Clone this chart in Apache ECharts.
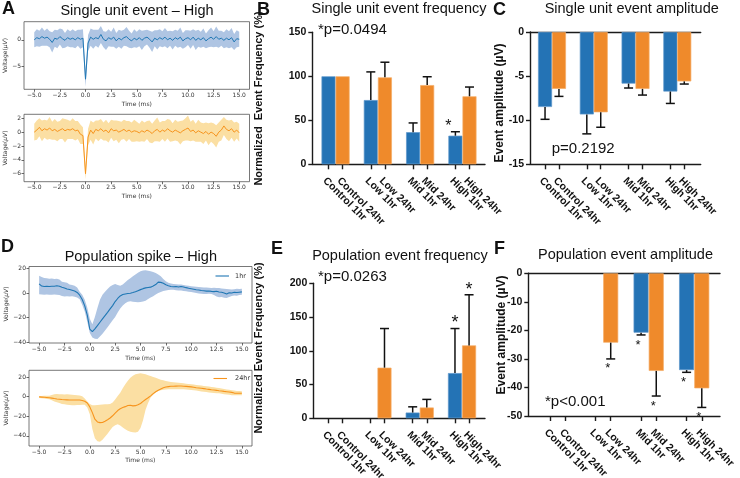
<!DOCTYPE html>
<html><head><meta charset="utf-8">
<script src="https://cdn.jsdelivr.net/npm/echarts@6/dist/echarts.min.js"></script>
<style>html,body{margin:0;padding:0;background:#fff}#main{width:740px;height:478px}</style>
</head><body><div id="main"></div>
<script>
// ---------- Trace data (A: single unit, D: population spike) ----------
const timeMs = [-5,-4.75,-4.5,-4.25,-4,-3.75,-3.5,-3.25,-3,-2.75,
 -2.5,-2.25,-2,-1.75,-1.5,-1.25,-1,-0.75,-0.5,-0.25,
 0,0.25,0.5,0.75,1,1.25,1.5,1.75,2,2.25,
 2.5,2.75,3,3.25,3.5,3.75,4,4.25,4.5,4.75,
 5,5.25,5.5,5.75,6,6.25,6.5,6.75,7,7.25,
 7.5,7.75,8,8.25,8.5,8.75,9,9.25,9.5,9.75,
 10,10.25,10.5,10.75,11,11.25,11.5,11.75,12,12.25,
 12.5,12.75,13,13.25,13.5,13.75,14,14.25,14.5,14.75,
 15];
const timeTicks = [-5,-2.5,0,2.5,5,7.5,10,12.5,15];

const unit1hrMean = [0.0,0.4,0.2,0.6,0.3,0.5,0.1,-0.5,0.3,0.1,
 0.6,0.2,-0.1,0.4,0.1,0.3,0.0,0.4,0.1,0.3,
 -7.4,-0.6,0.5,0.1,0.4,0.2,1.0,0.1,-0.2,0.4,
 0.1,0.5,-0.2,0.3,0.0,0.4,0.6,0.1,-0.2,0.3,
 0.0,0.4,-0.1,0.3,0.5,0.1,-0.4,0.3,0.0,0.4,
 0.1,0.5,0.0,0.3,-0.1,0.4,0.1,0.5,-0.2,0.2,
 0.4,0.0,0.5,-0.1,0.3,0.0,0.4,-0.2,0.2,0.5,
 0.1,0.6,0.1,0.3,-0.1,0.3,0.0,0.4,-0.4,0.2,
 0.1];
const unit1hrSd = [1.4,1.6,1.5,1.7,1.4,1.6,1.5,1.9,1.6,1.7,
 1.5,1.8,1.4,1.6,1.5,1.7,1.6,1.5,1.8,1.7,
 1.4,1.5,1.6,1.8,1.5,1.7,1.6,1.5,1.7,1.6,
 1.4,1.8,1.5,1.6,1.7,1.5,1.8,1.6,1.4,1.7,
 1.5,1.6,1.8,1.5,1.4,1.6,1.9,1.5,1.8,1.6,
 1.5,1.7,1.6,1.4,1.7,1.5,1.6,1.8,1.5,1.6,
 1.4,1.7,1.5,1.8,1.6,1.5,1.7,1.4,1.6,1.8,
 1.5,1.9,1.6,1.4,1.5,1.7,1.6,1.8,1.5,1.6,
 1.4];
const unit24hrMean = [0.0,0.3,0.7,0.2,0.5,0.3,0.6,0.2,0.4,0.1,
 0.3,0.5,0.2,0.4,0.3,0.5,0.2,0.3,-0.3,-0.5,
 -6.0,-0.7,0.3,-0.2,0.4,0.2,0.5,0.1,0.3,-0.1,
 0.5,0.2,0.3,0.0,0.2,0.4,0.1,0.3,0.0,0.2,
 0.1,-0.1,0.2,0.0,0.3,0.1,-0.2,0.2,0.4,0.0,
 0.3,0.1,0.5,0.2,0.0,0.3,0.1,-0.1,0.2,0.4,
 0.6,0.1,0.3,-0.1,0.2,0.0,-0.2,0.1,-0.3,0.0,
 -0.2,-0.6,0.0,0.3,0.9,0.4,0.2,0.5,0.0,0.3,
 -0.1];
const unit24hrSd = [1.2,1.4,1.3,1.5,1.3,1.4,1.6,1.3,1.5,1.4,
 1.3,1.5,1.7,1.4,1.3,1.5,1.4,1.3,1.4,1.2,
 0.8,1.2,1.4,1.6,1.3,1.5,1.4,1.3,1.5,1.4,
 1.3,1.5,1.4,1.6,1.3,1.4,1.5,1.3,1.4,1.6,
 1.4,1.3,1.5,1.4,1.3,1.6,1.4,1.5,1.7,1.4,
 1.3,1.5,1.4,1.6,1.3,1.5,1.4,1.7,1.5,1.6,
 1.8,1.4,1.5,1.3,1.6,1.4,1.5,1.3,1.6,1.4,
 1.5,1.6,1.4,1.5,1.3,1.4,1.5,1.3,1.4,1.2,
 1.3];

const pop1hrMean = [7.4,5.6,5.3,5.4,5.2,5.4,5.5,5.9,5.5,4.6,
 4.0,3.2,2.8,2.2,1.6,0.4,-1.8,-5.3,-10.5,-18.0,
 -29.5,-31.5,-29.2,-26.6,-23.8,-21.1,-18.4,-15.8,-13.0,-10.3,
 -7.0,-4.5,-2.4,-1.3,-0.8,-0.5,-0.2,0.3,0.9,1.8,
 2.7,3.5,4.1,4.4,4.7,5.6,6.8,8.8,8.6,7.8,
 6.6,5.9,5.3,5.0,5.2,4.8,5.3,4.9,4.3,3.8,
 3.4,3.0,2.6,2.4,2.0,1.8,1.5,1.6,1.3,1.1,
 1.4,0.8,0.5,0.0,-0.8,0.2,0.0,0.6,0.3,0.6,
 0.9];
const pop1hrUpper = [14.0,13.0,12.2,12.0,11.6,11.8,11.3,11.5,10.9,9.2,
 8.6,8.2,6.9,6.4,5.8,4.5,1.0,-1.4,-5.5,-12.0,
 -21.0,-25.5,-19.5,-12.3,-5.5,-1.5,1.0,3.2,5.2,6.4,
 7.3,6.5,5.8,6.8,8.6,10.5,12.0,13.6,15.0,16.5,
 17.7,18.2,18.4,18.0,17.6,17.0,16.3,15.0,13.6,11.4,
 9.6,8.3,7.6,7.3,7.1,6.9,6.8,6.5,6.1,5.8,
 5.5,5.2,5.0,4.8,4.6,4.5,4.4,4.3,4.1,4.2,
 4.0,4.1,3.7,3.5,3.2,3.0,2.7,3.0,3.4,3.2,
 3.5];
const pop1hrLower = [-1.0,-1.3,-1.5,-1.2,-1.4,-1.5,-1.3,-1.4,-1.6,-2.4,
 -2.8,-2.6,-2.9,-2.7,-3.0,-3.8,-5.2,-9.5,-15.0,-23.5,
 -32.5,-36.2,-37.3,-37.4,-35.5,-33.2,-30.6,-27.8,-25.0,-22.3,
 -19.5,-16.0,-12.6,-10.2,-8.3,-7.2,-6.8,-7.1,-7.4,-7.5,
 -7.4,-6.9,-6.3,-5.0,-3.8,-2.6,-1.3,-0.1,0.8,1.5,
 1.9,2.3,2.6,2.5,2.2,2.0,1.9,1.6,1.3,1.0,
 0.8,0.4,0.0,-0.4,-0.7,-0.8,-0.9,-0.7,-0.9,-1.6,
 -2.8,-3.5,-3.3,-3.9,-4.1,-3.2,-2.5,-2.0,-2.2,-1.7,
 -1.4];
const pop24hrMean = [-0.3,-0.5,-0.7,-0.9,-1.1,-1.5,-2.0,-2.4,-2.7,-3.0,
 -3.2,-3.3,-3.4,-3.4,-3.4,-3.4,-3.5,-4.0,-4.8,-6.5,
 -10.5,-16.3,-23.0,-25.8,-26.5,-26.4,-25.0,-23.5,-21.8,-19.5,
 -16.8,-14.2,-12.3,-11.2,-10.2,-9.0,-8.8,-9.4,-9.2,-8.3,
 -7.0,-4.9,-3.0,-1.2,0.8,3.0,4.9,6.5,7.8,9.0,
 9.8,10.2,10.5,10.6,10.7,10.8,10.8,10.6,10.4,10.2,
 9.9,9.5,9.1,8.8,8.5,8.1,7.7,7.4,7.0,6.7,
 6.4,6.0,5.7,5.3,5.0,4.7,4.3,3.6,3.4,3.5,
 3.4];
const pop24hrUpper = [0.7,0.7,0.8,0.8,0.9,1.6,2.4,2.6,2.5,2.4,
 2.2,2.3,2.1,1.9,1.7,1.5,1.2,0.3,-2.0,-5.0,
 -7.5,-8.8,-8.9,-8.5,-8.2,-8.0,-7.8,-7.9,-7.6,-6.0,
 -3.0,0.5,4.0,8.5,12.5,16.2,19.3,21.2,22.7,23.4,
 23.7,23.3,22.7,21.8,21.0,20.1,19.3,18.3,17.3,16.6,
 16.0,15.4,15.0,14.7,14.4,14.2,13.9,13.6,13.2,12.9,
 12.6,12.3,11.9,11.5,11.2,10.9,10.6,10.3,9.9,9.5,
 9.1,8.8,8.3,7.8,7.3,6.9,6.4,6.1,5.8,5.6,
 5.4];
const pop24hrLower = [-1.3,-1.6,-2.0,-2.4,-2.8,-3.8,-5.0,-5.8,-6.5,-7.5,
 -7.9,-8.3,-8.6,-8.8,-8.7,-8.6,-8.5,-8.2,-8.3,-11.0,
 -18.0,-33.0,-42.5,-45.5,-46.0,-44.0,-40.8,-37.7,-34.2,-31.0,
 -29.2,-28.2,-29.5,-31.5,-33.2,-34.8,-35.9,-36.4,-36.6,-35.8,
 -32.0,-24.0,-13.5,-6.5,-1.0,2.0,4.1,5.6,6.6,7.0,
 7.3,7.5,7.5,7.6,7.6,7.5,7.5,7.4,7.2,7.0,
 6.8,6.6,6.1,5.7,5.3,4.9,4.6,4.3,4.0,3.8,
 3.5,3.3,2.9,2.5,2.1,1.8,1.4,1.4,1.5,1.4,
 1.4];

// ---------- Bar chart data ----------
const groupNames = ['Control','Low','Mid','High'];
const sessionNames = ['1hr','24hr'];

const unitFreq1hr = [100,73,36.5,32.5];
const unitFreq24hr = [100,98.8,90,77.3];
const unitFreqErr1hr = [null,105,47,37];
const unitFreqErr24hr = [null,116,99.5,87.8];
const unitFreqStar1hr = [false,false,false,true];
const unitFreqStar24hr = [false,false,false,false];

const unitAmp1hr = [-8.5,-9.35,-5.85,-6.75];
const unitAmp24hr = [-6.45,-9.1,-6.45,-5.6];
const unitAmpErr1hr = [-9.9,-11.55,-6.35,-8.1];
const unitAmpErr24hr = [-7.3,-10.8,-7.15,-5.9];
const unitAmpStar1hr = [false,false,false,false];
const unitAmpStar24hr = [false,false,false,false];

const popFreq1hr = [0,0,8.5,67];
const popFreq24hr = [0,75,16,108];
const popFreqErr1hr = [null,null,17,133];
const popFreqErr24hr = [null,133,28,183];
const popFreqStar1hr = [false,false,false,true];
const popFreqStar24hr = [false,false,false,true];

const popAmp1hr = [null,null,-20.8,-33.9];
const popAmp24hr = [null,-24.3,-34.2,-40.3];
const popAmpErr1hr = [null,null,-21.6,-34.7];
const popAmpErr24hr = [null,-30,-43,-47];
const popAmpStar1hr = [false,false,true,true];
const popAmpStar24hr = [false,true,true,true];

// ---------- Styling ----------
const BLUE = '#2473b5', ORANGE = '#ef8a2b';
const BLUE_EDGE = '#5d97cc', ORANGE_EDGE = '#f5ac66';
const MPL_BLUE = '#1f77b4', MPL_ORANGE = '#f7941d';
const BAND_BLUE = '#afc5e3', BAND_ORANGE = '#fbdfa3';
const PRISM_FONT = 'Liberation Sans';

const grids = [], xAxes = [], yAxes = [], series = [];

function mplFmt(v, dec) {
  const s = Math.abs(v).toFixed(dec);
  return (v < 0 ? '\u2212' : '') + s;
}

function bandRender(lower, upper, color) {
  return function (params, api) {
    if (params.dataIndex !== 0) return null;
    const pts = [];
    for (let i = 0; i < timeMs.length; i++) pts.push(api.coord([timeMs[i], upper[i]]));
    for (let i = timeMs.length - 1; i >= 0; i--) pts.push(api.coord([timeMs[i], lower[i]]));
    return {type: 'polygon', shape: {points: pts}, style: {fill: color, stroke: null}};
  };
}

function addMpl(cfg) {
  const gi = grids.length;
  grids.push({left: cfg.left, top: cfg.top, width: cfg.width, height: cfg.height,
    show: true, borderColor: '#555', borderWidth: 0.8, backgroundColor: 'transparent'});
  const tickStyle = {color: '#444', width: 0.8};
  const labelStyle = {fontFamily: 'DejaVu Sans', fontSize: 6, color: '#333', margin: 3};
  const xi = xAxes.length;
  xAxes.push({gridIndex: gi, type: 'value', min: -6, max: 16, position: 'bottom',
    axisLine: {show: false, onZero: false}, splitLine: {show: false},
    axisTick: {show: true, inside: false, length: 2.5, customValues: timeTicks, lineStyle: tickStyle},
    axisLabel: Object.assign({customValues: timeTicks, formatter: v => mplFmt(v, 1)}, labelStyle)});
  const yi = yAxes.length;
  yAxes.push({gridIndex: gi, type: 'value', min: cfg.ymin, max: cfg.ymax, position: 'left',
    axisLine: {show: false, onZero: false}, splitLine: {show: false},
    axisTick: {show: true, inside: false, length: 2.5, customValues: cfg.yTicks, lineStyle: tickStyle},
    axisLabel: Object.assign({customValues: cfg.yTicks, formatter: v => mplFmt(v, 0)}, labelStyle)});
  series.push({type: 'custom', xAxisIndex: xi, yAxisIndex: yi, silent: true, z: 1,
    data: timeMs.map((t, i) => [t, cfg.lower[i], cfg.upper[i]]), encode: {x: 0, y: [1, 2]},
    renderItem: bandRender(cfg.lower, cfg.upper, cfg.band)});
  series.push({type: 'line', name: cfg.name, xAxisIndex: xi, yAxisIndex: yi, symbol: 'none', silent: true,
    lineStyle: {color: cfg.color, width: cfg.lw}, itemStyle: {color: cfg.color}, z: 3,
    data: timeMs.map((t, i) => [t, cfg.mean[i]])});
}

function errRender(params, api) {
  const x = api.value(0);
  const p0 = api.coord([x, api.value(1)]);
  const p1 = api.coord([x, api.value(2)]);
  const cap = 4.5, st = {stroke: '#111', lineWidth: 1.5};
  return {type: 'group', children: [
    {type: 'line', shape: {x1: p0[0], y1: p0[1], x2: p1[0], y2: p1[1]}, style: st},
    {type: 'line', shape: {x1: p1[0] - cap, y1: p1[1], x2: p1[0] + cap, y2: p1[1]}, style: st}
  ]};
}
function starRender(dx, dy, size) {
  return function (params, api) {
    const p = api.coord([api.value(0), api.value(1)]);
    return {type: 'text', x: p[0] + dx, y: p[1] + dy,
      style: {text: '*', fontSize: size, fontFamily: PRISM_FONT, fill: '#111',
        align: 'center', verticalAlign: 'middle', textAlign: 'center', textVerticalAlign: 'middle'}};
  };
}
function catLabelRender(names, margin) {
  return function (params, api) {
    const p = api.coord([api.value(0), api.value(1)]);
    return {type: 'text', x: p[0], y: p[1] + margin, rotation: -Math.PI / 4,
      style: {text: names[params.dataIndex], fontSize: 10.5, fontWeight: 'bold', fontFamily: PRISM_FONT,
        fill: '#111', align: 'left', verticalAlign: 'top', textAlign: 'left', textVerticalAlign: 'top'}};
  };
}

function addPrism(cfg) {
  const gi = grids.length;
  grids.push({left: cfg.left, top: cfg.top, width: cfg.width, height: cfg.height});
  const positions = [], names = [];
  groupNames.forEach((g, gIdx) => sessionNames.forEach((s, k) => {
    positions.push(gIdx * 3 + k); names.push(g + ' ' + s);
  }));
  const ls = {color: '#1b1b1b', width: 1.4};
  const xi = xAxes.length;
  xAxes.push({gridIndex: gi, type: 'value', min: cfg.xmin, max: cfg.xmax, position: 'bottom',
    axisLine: {show: true, onZero: false, lineStyle: ls},
    axisTick: {show: true, length: 5, customValues: positions, lineStyle: ls},
    axisLabel: {show: false},
    splitLine: {show: false}});
  if (cfg.topLine) {
    xAxes.push({gridIndex: gi, type: 'value', min: cfg.xmin, max: cfg.xmax, position: 'top',
      axisLine: {show: true, onZero: false, lineStyle: ls}, axisTick: {show: false},
      axisLabel: {show: false}, splitLine: {show: false}});
  }
  const yi = yAxes.length;
  yAxes.push({gridIndex: gi, type: 'value', min: cfg.ymin, max: cfg.ymax, interval: cfg.interval, position: 'left',
    axisLine: {show: true, onZero: false, lineStyle: ls}, axisTick: {show: true, length: 4, lineStyle: ls},
    axisLabel: {fontFamily: PRISM_FONT, fontWeight: 'bold', fontSize: 10.5, color: '#111', margin: 6},
    splitLine: {show: false}});
  const bars = [], errs = [], stars = [];
  [[cfg.v1, cfg.e1, cfg.s1, BLUE, BLUE_EDGE], [cfg.v24, cfg.e24, cfg.s24, ORANGE, ORANGE_EDGE]].forEach(([vals, es, ss, col, edge], k) => {
    vals.forEach((v, g) => {
      if (v == null) return;
      const p = g * 3 + k;
      bars.push({value: [p, v], itemStyle: v === 0 ? {color: col, borderWidth: 0} : {color: col, borderColor: edge, borderWidth: 0.7}});
      if (es[g] != null) errs.push([p, v, es[g]]);
      if (ss[g]) stars.push([p, es[g] != null ? es[g] : v]);
    });
  });
  series.push({type: 'bar', xAxisIndex: xi, yAxisIndex: yi, barWidth: cfg.barWidth, data: bars, z: 2, silent: true});
  series.push({type: 'custom', xAxisIndex: xi, yAxisIndex: yi, data: errs, encode: {x: 0, y: 1}, renderItem: errRender, z: 3, silent: true});
  series.push({type: 'custom', xAxisIndex: xi, yAxisIndex: yi, data: stars, encode: {x: 0, y: 1},
    renderItem: starRender(cfg.starDx, cfg.starDy, cfg.starSize), z: 3, silent: true});
  series.push({type: 'custom', xAxisIndex: xi, yAxisIndex: yi, data: positions.map(p => [p, cfg.ymin]),
    encode: {x: 0, y: 1}, renderItem: catLabelRender(names, 11), z: 3, silent: true, clip: false});
}

// Panel A
addMpl({left: 24, top: 21.7, width: 225.5, height: 67.6, ymin: -9.3, ymax: 3.4, yTicks: [0, -5],
  mean: unit1hrMean, lower: unit1hrMean.map((m, i) => m - unit1hrSd[i]), upper: unit1hrMean.map((m, i) => m + unit1hrSd[i]),
  color: MPL_BLUE, band: BAND_BLUE, lw: 1, name: 'unit1hr'});
addMpl({left: 24, top: 114.3, width: 225.5, height: 67.4, ymin: -7.16, ymax: 2.58, yTicks: [2, 0, -2, -4, -6],
  mean: unit24hrMean, lower: unit24hrMean.map((m, i) => m - unit24hrSd[i]), upper: unit24hrMean.map((m, i) => m + unit24hrSd[i]),
  color: MPL_ORANGE, band: BAND_ORANGE, lw: 1, name: 'unit24hr'});
// Panel D
addMpl({left: 29, top: 266.5, width: 223, height: 76.5, ymin: -40.7, ymax: 21.5, yTicks: [20, 0, -20, -40],
  mean: pop1hrMean, lower: pop1hrLower, upper: pop1hrUpper, color: MPL_BLUE, band: BAND_BLUE, lw: 1.1, name: '1hr'});
addMpl({left: 29, top: 370.3, width: 223, height: 75.7, ymin: -50.3, ymax: 26.8, yTicks: [20, 0, -20, -40],
  mean: pop24hrMean, lower: pop24hrLower, upper: pop24hrUpper, color: MPL_ORANGE, band: BAND_ORANGE, lw: 1.1, name: '24hr'});
// Panel B
addPrism({left: 312.3, top: 32.3, width: 172.7, height: 132, ymin: 0, ymax: 150, interval: 50,
  xmin: -1.15, xmax: 11.1, barWidth: 14,
  v1: unitFreq1hr, v24: unitFreq24hr, e1: unitFreqErr1hr, e24: unitFreqErr24hr,
  s1: unitFreqStar1hr, s24: unitFreqStar24hr, starDx: -7, starDy: -5.5, starSize: 16});
// Panel C
addPrism({left: 530, top: 32, width: 170.7, height: 132.3, ymin: -15, ymax: 0, interval: 5,
  xmin: -1.08, xmax: 11.18, barWidth: 14, topLine: true,
  v1: unitAmp1hr, v24: unitAmp24hr, e1: unitAmpErr1hr, e24: unitAmpErr24hr,
  s1: unitAmpStar1hr, s24: unitAmpStar24hr, starDx: 0, starDy: 0, starSize: 14});
// Panel E
addPrism({left: 313.3, top: 283.3, width: 171.7, height: 135, ymin: 0, ymax: 200, interval: 50,
  xmin: -1.05, xmax: 11.13, barWidth: 14,
  v1: popFreq1hr, v24: popFreq24hr, e1: popFreqErr1hr, e24: popFreqErr24hr,
  s1: popFreqStar1hr, s24: popFreqStar24hr, starDx: 0, starDy: -5, starSize: 18});
// Panel F
addPrism({left: 528.3, top: 273.3, width: 191.7, height: 142.7, ymin: -50, ymax: 0, interval: 10,
  xmin: -1.43, xmax: 11.2, barWidth: 15, topLine: true,
  v1: popAmp1hr, v24: popAmp24hr, e1: popAmpErr1hr, e24: popAmpErr24hr,
  s1: popAmpStar1hr, s24: popAmpStar24hr, starDx: -3, starDy: 10, starSize: 13});

// ---------- Text ----------
function T(x, y, text, size, opts) {
  opts = opts || {};
  const align = opts.align || 'center';
  return {type: 'text', x, y, rotation: opts.rot || 0, silent: true, z: 10,
    style: {text, fontSize: size, fontFamily: opts.family || PRISM_FONT, fontWeight: opts.weight || 'normal',
      fill: opts.fill || '#111', align, verticalAlign: 'middle', textAlign: align, textVerticalAlign: 'middle',
      rich: opts.rich}};
}
function L(x1, y1, x2, y2, color, w) {
  return {type: 'line', silent: true, z: 10, shape: {x1, y1, x2, y2}, style: {stroke: color, lineWidth: w}};
}
const R90 = Math.PI / 2;
const mplRich = {i: {fontStyle: 'italic', fontSize: 6, fontFamily: 'DejaVu Sans', fill: '#333'}};
const mplOpt = {family: 'DejaVu Sans', fill: '#333'};
const graphics = [
  T(2, 9, 'A', 18, {align: 'left', weight: 'bold'}),
  T(257, 10, 'B', 18, {align: 'left', weight: 'bold'}),
  T(493, 10, 'C', 18, {align: 'left', weight: 'bold'}),
  T(1, 247, 'D', 18, {align: 'left', weight: 'bold'}),
  T(271, 249, 'E', 18, {align: 'left', weight: 'bold'}),
  T(494, 249, 'F', 18, {align: 'left', weight: 'bold'}),
  T(137, 10.5, 'Single unit event \u2013 High', 14.5),
  T(399, 9, 'Single unit event frequency', 14.5),
  T(631.7, 8.5, 'Single unit event amplitude', 14.5),
  T(140.8, 257, 'Population spike \u2013 High', 14.5),
  T(400, 255.5, 'Population event frequency', 14.5),
  T(625.5, 255, 'Population event amplitude', 14.5),
  T(318, 29.5, '*p=0.0494', 15, {align: 'left'}),
  T(551.7, 149, 'p=0.2192', 15, {align: 'left'}),
  T(318, 276.7, '*p=0.0263', 15, {align: 'left'}),
  T(545, 401.7, '*p<0.001', 15, {align: 'left'}),
  T(259, 98.5, 'Normalized  Event Frequency (%)', 11, {rot: R90, weight: 'bold'}),
  T(500, 103, 'Event amplitude (\u00b5V)', 12, {rot: R90, weight: 'bold'}),
  T(259, 348, 'Normalized Event Frequency (%)', 11, {rot: R90, weight: 'bold'}),
  T(502, 335, 'Event amplitude (\u00b5V)', 12, {rot: R90, weight: 'bold'}),
  T(136.8, 104, 'Time (ms)', 6, mplOpt),
  T(136.8, 196.7, 'Time (ms)', 6, mplOpt),
  T(140.3, 358.7, 'Time (ms)', 6, mplOpt),
  T(140.3, 460.7, 'Time (ms)', 6, mplOpt),
  T(5.5, 55.5, 'Voltage({i|\u03bcV})', 6, Object.assign({rot: R90, rich: mplRich}, mplOpt)),
  T(5.5, 148, 'Voltage({i|\u03bcV})', 6, Object.assign({rot: R90, rich: mplRich}, mplOpt)),
  T(6, 304, 'Voltage({i|\u03bcV})', 6, Object.assign({rot: R90, rich: mplRich}, mplOpt)),
  T(6, 408, 'Voltage({i|\u03bcV})', 6, Object.assign({rot: R90, rich: mplRich}, mplOpt)),
  // legends of panel D
  L(215.5, 276, 229, 276, MPL_BLUE, 1.1),
  T(235, 276, sessionNames[0], 6.5, Object.assign({align: 'left'}, mplOpt)),
  L(213.5, 378.5, 227, 378.5, MPL_ORANGE, 1.1),
  T(235, 378.5, sessionNames[1], 6.5, Object.assign({align: 'left'}, mplOpt))
];

const option = {
  animation: false,
  backgroundColor: '#fff',
  grid: grids, xAxis: xAxes, yAxis: yAxes, series,
  graphic: graphics
};
const chart = echarts.init(document.getElementById('main'), null, {renderer: 'canvas', width: 740, height: 478});
chart.setOption(option);
</script></body></html>
